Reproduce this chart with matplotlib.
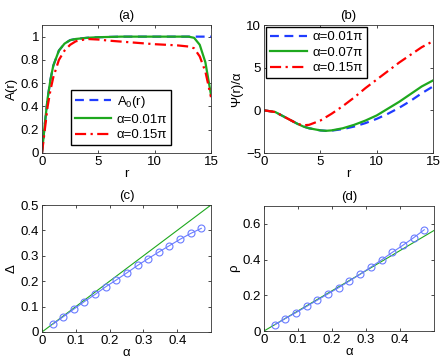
import matplotlib
matplotlib.use("Agg")
import matplotlib.pyplot as plt
import numpy as np

plt.rcParams['font.family'] = ['Liberation Sans', 'DejaVu Sans']
plt.rcParams['font.size'] = 9.5
plt.rcParams['mathtext.fontset'] = 'custom'
plt.rcParams['mathtext.rm'] = 'Liberation Sans'

# (a) amplitude profiles
ra = [0, 0.25, 0.5, 0.75, 1, 1.5, 2, 2.5, 3, 4, 5, 7, 10, 12, 13, 13.5, 14, 14.5, 15]
a_green = [0, 0.25, 0.47, 0.63, 0.75, 0.88, 0.94, 0.97, 0.98, 0.99, 0.995, 1, 1, 1, 1, 0.99, 0.93, 0.78, 0.5]
a_blue = [0, 0.25, 0.47, 0.63, 0.75, 0.88, 0.94, 0.97, 0.98, 0.99, 0.995, 1, 1, 1, 1, 1, 1, 1, 1]
ra_red = [0, 0.25, 0.5, 0.75, 1, 1.5, 2, 2.5, 3, 4, 5, 6, 8, 10, 12, 13, 13.5, 14, 14.5, 15]
a_red = [0, 0.2, 0.4, 0.54, 0.65, 0.8, 0.88, 0.93, 0.96, 0.98, 0.975, 0.965, 0.95, 0.935, 0.925, 0.915, 0.9, 0.83, 0.7, 0.48]

# (b) phase profiles
rb = [0, 1, 2, 3, 3.5, 4, 5, 5.5, 6, 7, 8, 9, 10, 11, 12, 13, 14, 15]
psi_blue = [0, -0.2, -0.9, -1.6, -1.9, -2.1, -2.35, -2.4, -2.38, -2.2, -1.9, -1.5, -1.0, -0.4, 0.3, 1.1, 2.0, 2.8]
psi_green = [0, -0.2, -0.9, -1.6, -1.9, -2.1, -2.35, -2.4, -2.35, -2.1, -1.7, -1.2, -0.6, 0.2, 1.0, 1.9, 2.8, 3.5]
psi_red = [0, -0.2, -0.9, -1.6, -1.75, -1.7, -1.2, -0.8, -0.4, 0.5, 1.5, 2.6, 3.6, 4.6, 5.6, 6.5, 7.4, 8.1]

# (c), (d) versus alpha
alpha = [0.0314, 0.0628, 0.0942, 0.1257, 0.1571, 0.1885, 0.2199, 0.2513,
         0.2827, 0.3142, 0.3456, 0.3770, 0.4084, 0.4398, 0.4712]
delta = [0.03, 0.06, 0.09, 0.12, 0.148, 0.178, 0.205, 0.233, 0.262, 0.289, 0.315, 0.34, 0.365, 0.388, 0.408]
rho = [0.035, 0.07, 0.103, 0.138, 0.173, 0.208, 0.243, 0.28, 0.318, 0.358, 0.398, 0.44, 0.48, 0.522, 0.567]
fit_x = [0, 0.5]
fit_delta = [0, 0.5]
fit_rho = [0, 0.563]

fig = plt.figure(figsize=(4.43, 3.63), dpi=100)
W, H = 443.0, 363.0

def make_ax(l, t, r, b):
    return fig.add_axes([l / W, 1 - b / H, (r - l) / W, (b - t) / H])

blue = '#1f3cff'
green = '#1ea81e'
red = '#ff0000'
cblue = '#6a7cff'
dash = (0, (4, 2.5))
dashdot = (0, (5, 2, 1, 2))

leg_kw = dict(fancybox=False, edgecolor='black', framealpha=1, handlelength=2.8,
              borderpad=0.3, labelspacing=0.25, handletextpad=0.4)

ax = make_ax(42, 25, 211, 153)
ax.plot(ra, a_blue, linestyle=dash, color=blue, lw=1.6, label=r'A$_0$(r)')
ax.plot(ra, a_green, '-', color=green, lw=1.6, label='\u03b1=0.01\u03c0')
ax.plot(ra_red, a_red, linestyle=dashdot, color=red, lw=1.6, label='\u03b1=0.15\u03c0')
ax.set_xlim(0, 15)
ax.set_ylim(0, 1.1)
ax.set_xticks([0, 5, 10, 15])
ax.set_yticks([0, 0.2, 0.4, 0.6, 0.8, 1])
ax.set_yticklabels(['0', '0.2', '0.4', '0.6', '0.8', '1'])
ax.set_xlabel('r', labelpad=0)
ax.set_ylabel('A(r)', labelpad=2)
ax.set_title('(a)', fontsize=9.5, pad=4)
ax.legend(loc='lower left', bbox_to_anchor=(0.13, 0.01), **leg_kw)

ax = make_ax(264, 25, 433, 153)
ax.plot(rb, psi_blue, linestyle=dash, color=blue, lw=1.6, label='\u03b1=0.01\u03c0')
ax.plot(rb, psi_green, '-', color=green, lw=1.6, label='\u03b1=0.07\u03c0')
ax.plot(rb, psi_red, linestyle=dashdot, color=red, lw=1.6, label='\u03b1=0.15\u03c0')
ax.set_xlim(0, 15)
ax.set_ylim(-5, 10)
ax.set_xticks([0, 5, 10, 15])
ax.set_yticks([-5, 0, 5, 10])
ax.set_yticklabels(['\u22125', '0', '5', '10'])
ax.set_xlabel('r', labelpad=0)
ax.set_ylabel('\u03a8(r)/\u03b1', labelpad=2)
ax.set_title('(b)', fontsize=9.5, pad=4)
ax.legend(loc='upper left', borderaxespad=0.15, **leg_kw)

ax = make_ax(42, 205, 211, 332)
ax.plot(fit_x, fit_delta, '-', color=green, lw=0.8)
ax.plot(alpha, delta, '-o', color=cblue, lw=0.8, ms=5, mfc='none', mew=0.8)
ax.set_xlim(0, 0.5)
ax.set_ylim(0, 0.5)
ax.set_xticks([0, 0.1, 0.2, 0.3, 0.4])
ax.set_xticklabels(['0', '0.1', '0.2', '0.3', '0.4'])
ax.set_yticks([0, 0.1, 0.2, 0.3, 0.4, 0.5])
ax.set_yticklabels(['0', '0.1', '0.2', '0.3', '0.4', '0.5'])
ax.set_xlabel('\u03b1', labelpad=0)
ax.set_ylabel('\u0394', labelpad=2)
ax.set_title('(c)', fontsize=9.5, pad=4)

ax = make_ax(264, 206, 434, 331)
ax.plot(fit_x, fit_rho, '-', color=green, lw=0.8)
ax.plot(alpha, rho, '-o', color=cblue, lw=0.8, ms=5, mfc='none', mew=0.8)
ax.set_xlim(0, 0.5)
ax.set_ylim(0, 0.7)
ax.set_xticks([0, 0.1, 0.2, 0.3, 0.4])
ax.set_xticklabels(['0', '0.1', '0.2', '0.3', '0.4'])
ax.set_yticks([0, 0.2, 0.4, 0.6])
ax.set_yticklabels(['0', '0.2', '0.4', '0.6'])
ax.set_xlabel('\u03b1', labelpad=0)
ax.set_ylabel('\u03c1', labelpad=2)
ax.set_title('(d)', fontsize=9.5, pad=4)

for a in fig.axes:
    a.tick_params(direction='in', length=2.5, width=0.5, top=True, right=True, pad=2)
    for s in a.spines.values():
        s.set_linewidth(0.6)
        s.set_color('#333333')

fig.savefig('out.png', dpi=100)
